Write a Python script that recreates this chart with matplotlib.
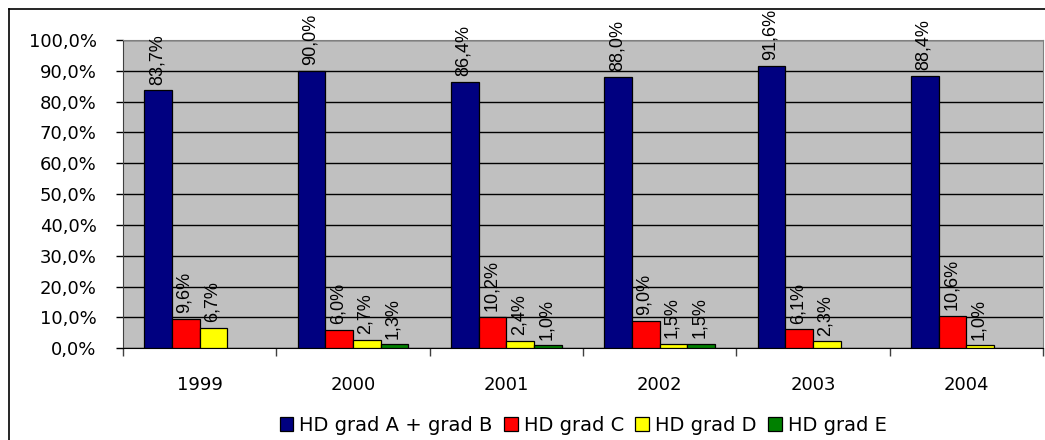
import numpy as np
import matplotlib
matplotlib.use("Agg")
import matplotlib.pyplot as plt
from matplotlib.lines import Line2D
from matplotlib.ticker import FixedLocator, FuncFormatter

years = ["1999", "2000", "2001", "2002", "2003", "2004"]
series_names = ["HD grad A + grad B", "HD grad C", "HD grad D", "HD grad E"]
grad_ab = [83.7, 90.0, 86.4, 88.0, 91.6, 88.4]
grad_c = [9.6, 6.0, 10.2, 9.0, 6.1, 10.6]
grad_d = [6.7, 2.7, 2.4, 1.5, 2.3, 1.0]
grad_e = [np.nan, 1.3, 1.0, 1.5, np.nan, np.nan]
colors = ["#000080", "#ff0000", "#ffff00", "#008000"]

def pct(v):
    return f"{v:.1f}".replace(".", ",") + "%"

fig = plt.figure(figsize=(10.45, 4.4), dpi=100)
ax = fig.add_axes([123 / 1045, 1 - 348.3 / 440, 920 / 1045, 308.3 / 440])
ax.set_facecolor("#c0c0c0")

# outer chart border (only top and left fall inside the picture)
fig.add_artist(Line2D([9 / 1045, 1.0], [1 - 9 / 440] * 2, color="black", lw=1.2))
fig.add_artist(Line2D([9 / 1045] * 2, [0, 1 - 9 / 440], color="black", lw=1.2))

x = np.arange(len(years))
w = 0.18
all_series = [grad_ab, grad_c, grad_d, grad_e]
for i, (vals, name, col) in enumerate(zip(all_series, series_names, colors)):
    pos = x + (i - 1.5) * w
    ax.bar(pos, vals, w, color=col, edgecolor="black", linewidth=0.9, label=name, zorder=3)
    for px, v in zip(pos, vals):
        if np.isnan(v):
            continue
        ax.annotate(pct(v), (px, v), xytext=(-1, 4), textcoords="offset points",
                    rotation=90, ha="center", va="bottom", fontsize=13,
                    family="Liberation Sans", color="black", zorder=4)

ax.set_xlim(-0.5, len(years) - 0.5)
ax.set_ylim(0, 100)
ax.yaxis.set_major_locator(FixedLocator(np.arange(0, 101, 10)))
ax.yaxis.set_major_formatter(FuncFormatter(lambda v, p: pct(v)))
ax.grid(axis="y", color="black", lw=1, zorder=1)

# tick marks between groups, year labels at group centres
ax.xaxis.set_major_locator(FixedLocator(np.arange(-0.5, len(years), 1)))
ax.xaxis.set_major_formatter(FuncFormatter(lambda v, p: ""))
ax.set_xticks(x, minor=True)
ax.set_xticklabels(years, minor=True)
ax.tick_params(axis="x", which="major", length=6, width=1, color="#404040")
ax.tick_params(axis="x", which="minor", length=0, pad=20, labelsize=13)
ax.tick_params(axis="y", length=5, width=1, pad=14, labelsize=13)

for s in ["top", "right"]:
    ax.spines[s].set_color("#808080")
ax.spines["left"].set_color("#404040")
ax.spines["bottom"].set_color("black")

ax.legend(loc="center", bbox_to_anchor=(0.5, -0.25), ncol=4, frameon=False,
          fontsize=14, handlelength=0.7, handleheight=0.7, handletextpad=0.3,
          columnspacing=0.6)

fig.savefig("out.png", dpi=100)
